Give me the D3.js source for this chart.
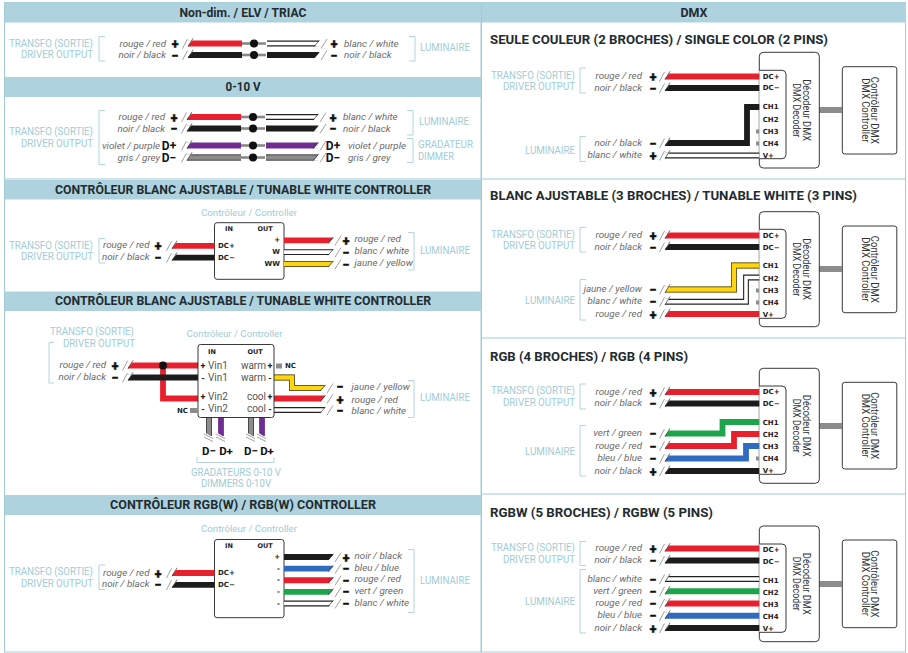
<!DOCTYPE html>
<html><head><meta charset="utf-8">
<style>html,body{margin:0;padding:0;background:#fff}svg{display:block}</style>
<script src="https://cdn.jsdelivr.net/npm/d3@7/dist/d3.min.js"></script>
</head><body><svg id="c" width="908" height="653"></svg>
<script>
// ---------- content ----------
const colourKeys = ["rouge","noir","blanc","violet","gris","jaune","vert","bleu"];
const colourFr = ["rouge","noir","blanc","violet","gris","jaune","vert","bleu"];
const colourEn = ["red","black","white","purple","grey","yellow","green","blue"];
const colourHex = ["#e8202e","#1c1c1c","#ffffff","#6f2d91","#8c8c8c","#ffd50f","#1ea54c","#2f6cc0"];
const leftHeaders = ["Non-dim. / ELV / TRIAC","0-10 V","CONTRÔLEUR BLANC AJUSTABLE / TUNABLE WHITE CONTROLLER","CONTRÔLEUR BLANC AJUSTABLE / TUNABLE WHITE CONTROLLER","CONTRÔLEUR RGB(W) / RGB(W) CONTROLLER"];
const rightHeader = "DMX";
const dmxTitles = ["SEULE COULEUR (2 BROCHES) / SINGLE COLOR (2 PINS)","BLANC AJUSTABLE (3 BROCHES) / TUNABLE WHITE (3 PINS)","RGB (4 BROCHES) / RGB (4 PINS)","RGBW (5 BROCHES) / RGBW (5 PINS)"];
const driverWires = ["rouge","noir"];
const driverSigns = ["+","−"];
const simpleOut = ["blanc","noir"];
const dimInWires = ["violet","gris"];
const dimSigns = ["D+","D−"];
const tunableOut = ["rouge","blanc","jaune"];
const tunablePins = ["+","W","WW"];
const tunableSigns = ["+","−","−"];
const tunable2Out = ["jaune","rouge","blanc"];
const tunable2Signs = ["−","+","−"];
const vinPins = ["Vin1","Vin1","Vin2","Vin2"];
const outPins = ["warm","warm","cool","cool"];
const pinSigns = ["+","-","+","-"];
const rgbwOut = ["noir","bleu","rouge","vert","blanc"];
const rgbwPins = ["+","-","-","-","-"];
const rgbwSigns = ["+","−","−","−","−"];
const dimmerSigns = ["D−","D+","D−","D+"];
const dimmerWires = ["gris","violet","gris","violet"];
const dmxPins = ["DC+","DC−","CH1","CH2","CH3","CH4","V+"];
const dmxLoadSingle = ["noir","blanc"], dmxSignsSingle = ["−","+"];
const dmxLoadTunable = ["jaune","blanc","rouge"], dmxSignsTunable = ["−","−","+"];
const dmxLoadRgb = ["vert","rouge","bleu","noir"], dmxSignsRgb = ["−","−","−","+"];
const dmxLoadRgbw = ["blanc","vert","rouge","bleu","noir"], dmxSignsRgbw = ["−","−","−","−","+"];

// ---------- scales and style ----------
const hex = d3.scaleOrdinal(colourKeys, colourHex);
const fr = d3.scaleOrdinal(colourKeys, colourFr), en = d3.scaleOrdinal(colourKeys, colourEn);
const label = k => `${fr(k)} / ${en(k)}`;
const rows = (n,a,b) => d3.scalePoint().domain(d3.range(n)).range([a,b]);
const TEAL="#9fccd6", HEAD="#aed3de", GREY="#6a6a6a", INK="#232b30", FONT="Roboto, sans-serif";
const W_ = {"TRANSFO (SORTIE)":84,"DRIVER OUTPUT":72,"LUMINAIRE":50,"GRADATEUR":55,"DIMMER":36,"GRADATEURS 0-10 V":90,"DIMMERS 0-10V":70};
const svg = d3.select("#c");
function T(x,y,s,o={}){
  const e=svg.append("text").attr("x",x).attr("y",y).text(s)
    .attr("dominant-baseline","central").attr("text-anchor",o.a||"start")
    .attr("font-family",o.f||FONT).attr("font-size",o.s||10).attr("fill",o.c||GREY)
    .attr("font-weight",o.w||400).attr("font-style",o.i?"italic":"normal");
  if(o.l)e.attr("textLength",o.l).attr("lengthAdjust","spacingAndGlyphs");
  if(o.rot!=null)e.attr("transform",`rotate(${o.rot} ${x} ${y})`);
  return e;
}
const teal=(x,y,s,a="end")=>T(x,y,s,{a,s:10,c:TEAL,l:W_[s]});
const ital=(x,y,s,a="end")=>T(x,y,s,{a,s:9.8,i:1,c:"#6a6a6a"});
const sign=(x,y,s)=>{ if(s[0]==="D") return T(x,y,s,{a:"middle",s:12,w:700,c:"#111"});
  return T(x,y,s,{a:"middle",s:12.5,w:900,c:"#111"}).attr("stroke","#111").attr("stroke-width",.45);};
const L=d3.line();
function bracketL(x,a,b){svg.append("path").attr("d",L([[x+6,a],[x,a],[x,b],[x+6,b]])).attr("fill","none").attr("stroke",TEAL).attr("stroke-width",.8);}
function bracketR(x,a,b){svg.append("path").attr("d",L([[x,a],[x+6,a],[x+6,b],[x,b]])).attr("fill","none").attr("stroke",TEAL).attr("stroke-width",.8);}
function thin(a,b,c="#777",w=.7){svg.append("path").attr("d",L([a,b])).attr("stroke",c).attr("stroke-width",w).attr("fill","none");}
function wire(pts,k,o={}){
  const isW=k==="blanc", p=L(pts), W=5.8;
  svg.append("path").attr("d",p).attr("fill","none").attr("stroke",isW?"#222":hex(k)).attr("stroke-width",W);
  if(isW) svg.append("path").attr("d",p).attr("fill","none").attr("stroke","#fff").attr("stroke-width",W-2.2);
  else if(k==="jaune"||k==="gris") { svg.append("path").attr("d",p).attr("fill","none").attr("stroke","#333").attr("stroke-width",W);
     svg.append("path").attr("d",p).attr("fill","none").attr("stroke",hex(k)).attr("stroke-width",W-1.4); }
  const h=W/2+.3;
  if(o.capL){const [x,y]=pts[0];
    svg.append("path").attr("d",L([[x-1,y-h],[x+4.5,y-h],[x-1,y+h]])+"Z").attr("fill","#fff");
    thin([x-5.5,y+5],[x-.5,y-4.5]); thin([x,y+h],[x+5,y-5.2],"#333",.7);}
  if(o.capR){const [x,y]=pts[pts.length-1];
    svg.append("path").attr("d",L([[x+1,y+h],[x-4.5,y+h],[x+1,y-h]])+"Z").attr("fill","#fff");
    thin([x-5,y+h],[x+.5,y-h],"#333",.7); thin([x+2,y+5],[x+8,y-4.5]);}
}
function header(x,w,y,h,s,l){
  svg.append("rect").attr("x",x).attr("y",y).attr("width",w).attr("height",h).attr("fill",HEAD);
  T(x+w/2,y+h/2-.8,s,{a:"middle",s:13.5,w:700,c:INK,l});
}
function box(x,y,w,h,r=2.5,f="#fff"){svg.append("rect").attr("x",x).attr("y",y).attr("width",w).attr("height",h).attr("rx",r).attr("fill",f).attr("stroke","#222").attr("stroke-width",.9);}
const pinTxt=(x,y,s,a="start")=>T(x,y,s,{a,s:7,w:700,c:"#222",f:"'DejaVu Sans',sans-serif"});

// ---------- frame ----------
svg.append("rect").attr("x",4.5).attr("y",2.5).attr("width",476.5).attr("height",649.5).attr("fill","#fff").attr("stroke",TEAL);
svg.append("rect").attr("x",481.5).attr("y",2.5).attr("width",424).attr("height",649.5).attr("fill","#fff").attr("stroke",TEAL);
[179,338,494].forEach(y=>thin([482,y],[906,y],TEAL,1));
thin([5,179],[481,179],TEAL,1);
header(5,476,2.5,20,leftHeaders[0],127);
header(5,476,77,20,leftHeaders[1],35);
header(5,476,180,19.5,leftHeaders[2],376);
header(5,476,291.5,19.5,leftHeaders[3],376);
header(5,476,495,20,leftHeaders[4],266);
header(482,424,2.5,20,rightHeader,27);

// ---------- straight-through splices ----------
function splice(ys,inK,inS,outK,outS,dx,lblOutX){
  ys.forEach((y,i)=>{
    const isD=inS[i][0]==="D";
    ital(isD?160:166+dx,y-.5,label(inK[i]));
    sign(isD?170+dx:175+dx,y,inS[i]);
    wire([[188+dx,y],[242+dx,y]],inK[i],{capL:1});
    svg.append("path").attr("d",L([[242+dx,y],[266+dx,y]])).attr("stroke","#888").attr("stroke-width",2.6);
    svg.append("circle").attr("cx",254+dx).attr("cy",y).attr("r",4).attr("fill","#111");
    wire([[267+dx,y],[319+dx,y]],outK[i],{capR:1});
    sign(334+dx,y,outS[i]);
    ital(lblOutX[i],y-.5,label(outK[i]),"start");
  });
}
teal(93,43.5,"TRANSFO (SORTIE)"); teal(93,54.5,"DRIVER OUTPUT");
bracketL(99,36.5,61); bracketR(409,36.5,61);
T(445,47.5,"LUMINAIRE",{a:"middle",s:10,c:TEAL,l:50});
const r1=rows(2,43.5,55);
splice(driverWires.map((d,i)=>r1(i)),driverWires,driverSigns,simpleOut,driverSigns,0,[344,344]);

teal(93,131,"TRANSFO (SORTIE)"); teal(93,143,"DRIVER OUTPUT");
bracketL(99,110.5,164.5); bracketR(407,110.5,135); bracketR(407,138.5,162.5);
T(444,121,"LUMINAIRE",{a:"middle",s:10,c:TEAL,l:50});
teal(418,144,"GRADATEUR","start"); teal(418,156,"DIMMER","start");
const r2a=rows(2,117,128.5), r2b=rows(2,145.5,157.5);
splice([r2a(0),r2a(1)],driverWires,driverSigns,simpleOut,driverSigns,-1,[343,343]);
splice([r2b(0),r2b(1)],dimInWires,dimSigns,dimInWires,dimSigns,-1,[348,348]);

// ---------- tunable white controller ----------
function inputPair(ys,bx){
  ys.forEach((y,i)=>{
    ital(149.5,y-1,label(driverWires[i]));
    sign(158,y,driverSigns[i]);
    wire([[172,y],[bx,y]],driverWires[i],{capL:1});
  });
}
function ctrlBox(yTitle,y0,y1){
  T(249,yTitle,"Contrôleur / Controller",{a:"middle",s:9.5,c:TEAL,l:96});
  box(214.5,y0,69.5,y1-y0);
  T(229,y0+6.5,"IN",{a:"middle",s:6.5,w:700,c:"#222",f:"'DejaVu Sans',sans-serif"});
  T(265,y0+6.5,"OUT",{a:"middle",s:6.5,w:700,c:"#222",f:"'DejaVu Sans',sans-serif"});
}
function outRows(keys,pins,signs,r){
  keys.forEach((k,i)=>{
    const y=r(i);
    wire([[284,y],[333,y]],k,{capR:1});
    pinTxt(280,y,pins[i],"end");
    sign(346,y,signs[i]);
    ital(354.5,y-1.5,label(k),"start");
  });
}
ctrlBox(212,222.7,279.3);
pinTxt(218,246,"DC+"); pinTxt(218,258,"DC−");
inputPair([245.8,257.7],214.5);
teal(93,245.5,"TRANSFO (SORTIE)"); teal(93,256.5,"DRIVER OUTPUT");
bracketL(99,238.5,263); bracketR(408,232.5,270);
T(445,250.5,"LUMINAIRE",{a:"middle",s:10,c:TEAL,l:50});
outRows(tunableOut,tunablePins,tunableSigns,rows(3,240.3,264));

// ---------- tunable white, two channels ----------
T(92,331.5,"TRANSFO (SORTIE)",{a:"middle",s:10,c:TEAL,l:84});
T(99,343.5,"DRIVER OUTPUT",{a:"middle",s:10,c:TEAL,l:72});
svg.append("path").attr("d",L([[54,342.5],[49,342.5],[49,383],[54,383]])).attr("fill","none").attr("stroke",TEAL).attr("stroke-width",.8);
const r4=rows(2,365.5,377.5);
wire([[163,r4(0)],[163,398.5],[198,398.5]],"rouge");
driverWires.forEach((k,i)=>{const y=r4(i);
  ital(106,y-1,label(k)); sign(115,y,driverSigns[i]);
  wire([[128,y],[198,y]],k,{capL:1});
});
svg.append("circle").attr("cx",163).attr("cy",r4(0)).attr("r",4).attr("fill","#111");
T(234.5,333.5,"Contrôleur / Controller",{a:"middle",s:9.5,c:TEAL,l:96});
const pinY=[365,377,396,408];
// dimmer wires
const dimX=[209,221,251,262];
dimmerWires.forEach((k,i)=>{
  wire([[dimX[i],417],[dimX[i],436]],k);
  const x=dimX[i];
  svg.append("path").attr("d",L([[x-3.3,433],[x+3.3,437],[x+3.3,439],[x-3.3,439]])+"Z").attr("fill","#fff");
  thin([x-5,434],[x+4,438.5]); thin([x-5,437],[x+4,441.5]);
});
wire([[274,377.5],[292,377.5],[292,388],[325,388]],"jaune",{capR:1});
wire([[274,398.5],[325,398.5]],"rouge",{capR:1});
wire([[274,410],[325,410]],"blanc",{capR:1});
box(198,344.5,76,73);
T(212,351.5,"IN",{a:"middle",s:6.5,w:700,c:"#222",f:"'DejaVu Sans',sans-serif"});
T(255,351.5,"OUT",{a:"middle",s:6.5,w:700,c:"#222",f:"'DejaVu Sans',sans-serif"});
pinY.forEach((y,i)=>{
  T(203,y+.5,pinSigns[i],{a:"middle",s:9,w:700,c:"#222"});
  T(208,y,vinPins[i],{s:10,c:"#555"});
  T(266,y,outPins[i],{a:"end",s:10,c:"#555"});
  T(270,y+.5,pinSigns[i],{a:"middle",s:9,w:700,c:"#222"});
});
svg.append("rect").attr("x",276).attr("y",363.5).attr("width",6).attr("height",5).attr("fill","#8c8c8c");
pinTxt(285,366,"NC");
svg.append("rect").attr("x",190).attr("y",408).attr("width",7.5).attr("height",5).attr("fill","#8c8c8c");
pinTxt(177,410.5,"NC");
const r4o=[386,399,410.5];
tunable2Out.forEach((k,i)=>{ sign(340,r4o[i],tunable2Signs[i]); ital(351.5,r4o[i],label(k),"start"); });
bracketR(408,380.5,417.5);
T(445,397.5,"LUMINAIRE",{a:"middle",s:10,c:TEAL,l:50});
const dimLX=[209,226,251,267];
dimmerSigns.forEach((s,i)=>T(dimLX[i],450.5,s,{a:"middle",s:11.5,w:700,c:"#111"}));
svg.append("path").attr("d",L([[197,457],[197,462.5],[274,462.5],[274,457]])).attr("fill","none").attr("stroke",TEAL).attr("stroke-width",.8);
T(236,472.5,"GRADATEURS 0-10 V",{a:"middle",s:10,c:TEAL,l:90});
T(236,483.5,"DIMMERS 0-10V",{a:"middle",s:10,c:TEAL,l:70});

// ---------- RGB(W) controller ----------
ctrlBox(528.5,539.5,617.7);
pinTxt(218,573,"DC+"); pinTxt(218,585,"DC−");
inputPair([573,584.8],214.5);
teal(93,571.5,"TRANSFO (SORTIE)"); teal(93,583.5,"DRIVER OUTPUT");
bracketL(99,565,589.5); bracketR(408,549.5,612.5);
T(445,580.5,"LUMINAIRE",{a:"middle",s:10,c:TEAL,l:50});
outRows(rgbwOut,rgbwPins,rgbwSigns,rows(5,557,603.5));

// ---------- DMX panels ----------
function dmxPanel(o){
  const {title,tw,yT,outer,inner,pins,ctrl,link,drv,drvBr,drvTxt,lum,lumBr,lumY,keys,signs,routes,stubs}=o;
  T(490,yT,title,{s:13.5,w:700,c:INK,l:tw});
  teal(575,drvTxt[0],"TRANSFO (SORTIE)"); teal(575,drvTxt[1],"DRIVER OUTPUT");
  bracketL(580,drvBr[0],drvBr[1]); bracketL(580,lumBr[0],lumBr[1]);
  teal(575,lumY,"LUMINAIRE");
  // controller
  box(842.3,ctrl[0],54.5,ctrl[1]-ctrl[0]);
  const mid=(ctrl[0]+ctrl[1])/2;
  T(874,mid,"Contrôleur DMX",{a:"middle",s:10,c:"#333",rot:90,l:67});
  T(865,mid,"DMX Controller",{a:"middle",s:10,c:"#333",rot:90,l:64});
  svg.append("rect").attr("x",819).attr("y",link-3).attr("width",23).attr("height",6).attr("fill","#8c8c8c");
  // wires
  driverWires.forEach((k,i)=>{
    const y=drv[i];
    ital(642,y-1,label(k)); sign(653,y,driverSigns[i]);
  });
  keys.forEach((k,i)=>{ ital(642,lum(i)-1,label(k)); sign(653,lum(i),signs[i]); });
  // decoder boxes sit under the wire ends
  box(759.3,outer[0],60,outer[1]-outer[0],4);
  svg.append("path").attr("d",`M759.3,${inner[0]}H782a4,4 0 0 1 4,4V${inner[1]-4}a4,4 0 0 1 -4,4H759.3`).attr("fill","#fff").attr("stroke","#222").attr("stroke-width",.9);
  driverWires.forEach((k,i)=>wire([[665,drv[i]],[759.3,drv[i]]],k,{capL:1}));
  keys.forEach((k,i)=>{
    const y=lum(i), r=routes[i];
    const pts=r?[[665,y],[r[0],y],[r[0],r[1]],[759.3,r[1]]]:[[665,y],[759.3,y]];
    wire(pts,k,{capL:1});
  });
  stubs.forEach(y=>svg.append("rect").attr("x",756).attr("y",y-2).attr("width",3).attr("height",4).attr("fill","#8c8c8c"));
  dmxPins.forEach((p,i)=>pinTxt(762.7,pins[i],p));
  const m2=(outer[0]+outer[1])/2;
  T(806.5,m2,"Décodeur DMX",{a:"middle",s:10,c:"#333",rot:90,l:62});
  T(796.5,m2,"DMX Decoder",{a:"middle",s:10,c:"#333",rot:90,l:54});
}
dmxPanel({title:dmxTitles[0],tw:338,yT:39,outer:[52.3,168],inner:[70.3,158.7],pins:[76.5,88,106.5,119.5,131.5,143.5,155.5],
  ctrl:[66.7,154],link:110,drv:[76.5,88],drvBr:[68,93],drvTxt:[75.5,86.5],lum:rows(2,143,155.5),lumBr:[136.5,161.5],lumY:150.5,
  keys:dmxLoadSingle,signs:dmxSignsSingle,routes:[[747,107],null],stubs:[131.5,143.5]});
dmxPanel({title:dmxTitles[1],tw:367,yT:195,outer:[211.7,326.7],inner:[229.3,318.3],pins:[235.5,247.5,265.5,278.5,290.5,302.5,314.5],
  ctrl:[226,312.7],link:269,drv:[235.5,247],drvBr:[227.5,252],drvTxt:[234.5,245.5],lum:rows(3,289.5,314),lumBr:[279.5,320],lumY:300,
  keys:dmxLoadTunable,signs:dmxSignsTunable,routes:[[734,265.5],[746,277.5],null],stubs:[290.5,302.5]});
dmxPanel({title:dmxTitles[2],tw:198,yT:356,outer:[368.3,483.3],inner:[386,474.3],pins:[392,403.5,422.5,434.5,446.5,459,471],
  ctrl:[382.3,469],link:426,drv:[392,403.5],drvBr:[384,409],drvTxt:[390.5,402.5],lum:rows(4,433.5,471),lumBr:[425.5,476],lumY:451,
  keys:dmxLoadRgb,signs:dmxSignsRgb,routes:[[722.5,422],[734,434],[746,446],null],stubs:[458.5]});
dmxPanel({title:dmxTitles[3],tw:223,yT:512,outer:[526,641.7],inner:[544,632.3],pins:[550,561.5,580.5,592.5,604.5,617,629],
  ctrl:[540,627.7],link:584,drv:[548.5,560.5],drvBr:[541.5,565.5],drvTxt:[547.5,559.5],lum:rows(5,579,628),lumBr:[569.5,633],lumY:601.5,
  keys:dmxLoadRgbw,signs:dmxSignsRgbw,routes:[null,null,null,null,null],stubs:[]});
</script></body></html>
